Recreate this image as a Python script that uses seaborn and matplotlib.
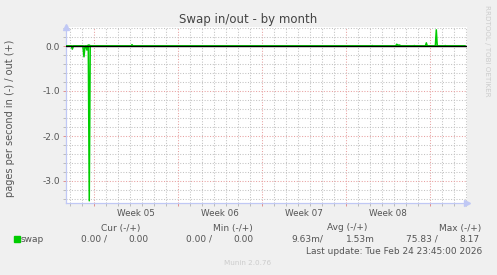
import numpy as np
import pandas as pd
import matplotlib
matplotlib.use("Agg")
import matplotlib.pyplot as plt
from matplotlib.ticker import MultipleLocator, FixedLocator, NullFormatter
from matplotlib.patches import Rectangle
import seaborn as sns

# ---------------- data (days since Mon Jan 26 2026, start of Week 05) ----------------
in_days = [-2.36, -1.92, -1.83, -1.74, -0.95, -0.86, -0.78, -0.70, -0.62, -0.50, -0.42, -0.34, 30.9]
in_values = [0, 0, -0.07, 0, 0, -0.24, -0.02, 0, -0.09, 0, -3.44, 0, 0]

out_days = [-2.36, -0.60, -0.50, -0.42, -0.30, 3.06, 3.14, 3.22, 23.09, 23.17, 23.25,
            25.12, 25.20, 25.30, 25.45, 25.55, 26.59, 26.67, 26.75, 27.59, 27.67, 27.75,
            28.42, 28.50, 28.58, 29.17, 29.25, 29.33, 30.9]
out_values = [0, 0, 0.02, 0.02, 0, 0, 0.03, 0, 0, 0.01, 0,
              0, 0.04, 0.02, 0.02, 0, 0, 0.01, 0, 0, 0.07, 0,
              0, 0.36, 0, 0, 0.01, 0, 0]

week_labels = ["Week 05", "Week 06", "Week 07", "Week 08"]
week_label_pos = [3.5, 10.5, 17.5, 24.5]
y_ticks = [0.0, -1.0, -2.0, -3.0]
y_tick_labels = ["0.0", "-1.0", "-2.0", "-3.0"]

stat_headers = ["Cur (-/+)", "Min (-/+)", "Avg (-/+)", "Max (-/+)"]
stat_in = ["0.00 /", "0.00 /", "9.63m/", "75.83 /"]
stat_out = ["0.00", "0.00", "1.53m", "8.17"]
series_name = "swap"
title = "Swap in/out - by month"
ylabel = "pages per second in (-) / out (+)"
last_update = "Last update: Tue Feb 24 23:45:00 2026"
footer = "Munin 2.0.76"
watermark = "RRDTOOL / TOBI OETIKER"

# ---------------- style ----------------
sns.set_theme(style="white")
plt.rcParams["font.family"] = ["DejaVu Sans"]
TXT = "#555555"
GREEN = "#00CC00"
W, H = 497, 275

fig = plt.figure(figsize=(W / 100, H / 100), dpi=100, facecolor="#F0F0F0")

def fx(px):
    return px / W

def fy(py):
    return 1 - py / H

L, R, T, B = 66, 467, 27, 203
ax = fig.add_axes([fx(L), fy(B), fx(R - L), (B - T) / H])
ax.set_facecolor("white")

df_in = pd.DataFrame({"day": in_days, "value": in_values})
df_out = pd.DataFrame({"day": out_days, "value": out_values})
sns.lineplot(data=df_in, x="day", y="value", ax=ax, color=GREEN, lw=1.1,
             estimator=None, sort=False, zorder=3)
sns.lineplot(data=df_out, x="day", y="value", ax=ax, color=GREEN, lw=1.1,
             estimator=None, sort=False, zorder=3)
ax.axhline(0, color="black", lw=1.0, zorder=4)

ax.set_xlim((L - 94.3) / 12, (R - 94.3) / 12)
ax.set_ylim(-(B - 46) / 45, (46 - T) / 45)

ax.xaxis.set_major_locator(MultipleLocator(7))
ax.xaxis.set_minor_locator(MultipleLocator(1))
ax.xaxis.set_major_formatter(NullFormatter())
ax.yaxis.set_major_locator(FixedLocator(y_ticks))
ax.yaxis.set_minor_locator(MultipleLocator(0.2))
ax.set_yticklabels(y_tick_labels)

ax.grid(which="minor", color="#c2c2c2", ls=(0, (1, 1.6)), lw=0.75, zorder=0)
ax.grid(which="major", color="#e8a0a0", ls=(0, (1, 1.6)), lw=0.75, zorder=1)
ax.set_axisbelow(True)

ax.tick_params(which="both", direction="out", length=2.5, width=0.7)
ax.tick_params(which="minor", color="#bbbbbb")
ax.tick_params(which="major", color="#e09090")
ax.tick_params(axis="y", which="major", labelsize=6.5, labelcolor=TXT, pad=2)
ax.tick_params(axis="x", bottom=True, which="both")
ax.tick_params(axis="y", left=True, which="both")

for s in ["top", "right"]:
    ax.spines[s].set_visible(False)
for s in ["left", "bottom"]:
    ax.spines[s].set_color("#c0c8f5")
    ax.spines[s].set_linewidth(0.9)
ax.set_xlabel("")
ax.set_ylabel("")

# axis arrows
ax.plot([0], [1.0], marker="^", transform=ax.transAxes, color="#c0c8f5",
        ms=5, clip_on=False, zorder=5)
ax.plot([1.0], [0], marker=">", transform=ax.transAxes, color="#c0c8f5",
        ms=5, clip_on=False, zorder=5)

for lab, pos in zip(week_labels, week_label_pos):
    ax.text(pos, -(213 - B) / (B - T), lab, transform=ax.get_xaxis_transform(),
            ha="center", va="center", fontsize=6.3, color=TXT)

# texts
fig.text(fx(248), fy(20), title, ha="center", va="center", fontsize=8.5, color="#444444")
fig.text(fx(10), fy(118), ylabel, rotation=90, ha="center", va="center",
         fontsize=7, color=TXT)
fig.text(fx(487), fy(51), watermark, rotation=270, ha="center", va="center",
         fontsize=5.1, color="#cccccc")

hdr_left = [101, 213, 327, 439]
in_left = [81, 186, 291, 406]
out_left = [128, 233, 346, 459]
for h, x in zip(stat_headers, hdr_left):
    fig.text(fx(x), fy(230.5), h, ha="left", va="baseline", fontsize=6.5, color=TXT)
for v, x in zip(stat_in, in_left):
    fig.text(fx(x), fy(242), v, ha="left", va="baseline", fontsize=6.5, color=TXT)
for v, x in zip(stat_out, out_left):
    fig.text(fx(x), fy(242), v, ha="left", va="baseline", fontsize=6.5, color=TXT)

fig.patches.append(Rectangle((fx(14), fy(242)), fx(6), 6 / H, transform=fig.transFigure,
                             color=GREEN, figure=fig))
fig.text(fx(20.5), fy(242), series_name, ha="left", va="baseline", fontsize=6.5, color=TXT)
fig.text(fx(482), fy(253.5), last_update, ha="right", va="baseline", fontsize=6.5, color=TXT)
fig.text(fx(248), fy(263), footer, ha="center", va="center", fontsize=5.2, color="#cccccc")

fig.savefig("out.png", dpi=100, facecolor=fig.get_facecolor())
